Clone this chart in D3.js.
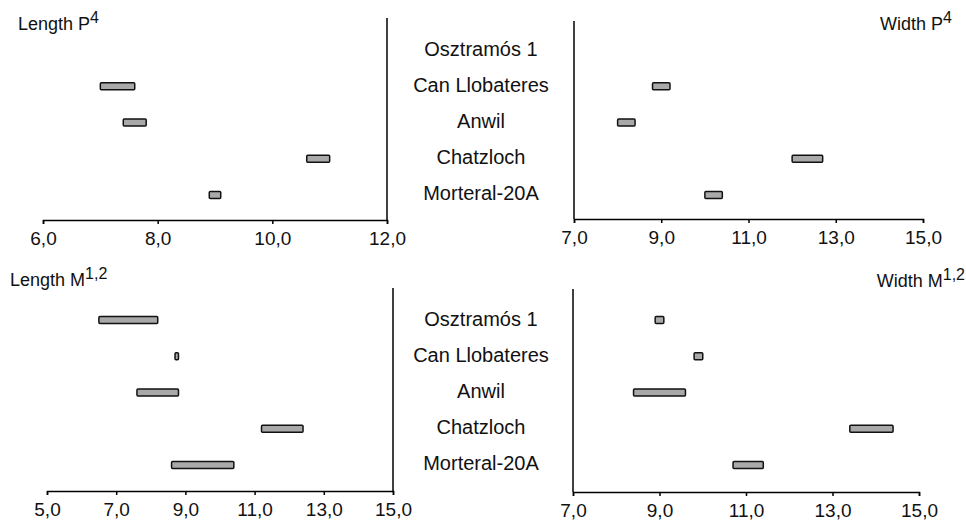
<!DOCTYPE html>
<html>
<head>
<meta charset="utf-8">
<script src="https://cdn.jsdelivr.net/npm/d3@7"></script>
<style>
  body { margin: 0; background: #fff; }
  svg { display: block; font-family: "Liberation Sans", Arial, sans-serif; }
  .axis path, .axis line { stroke: #000; stroke-width: 1.5; }
  .axis text { font-size: 19px; fill: #111; }
</style>
</head>
<body>
<svg id="chart" width="966" height="522"></svg>
<script>
// sites, top to bottom
const sites = ["Osztramós 1", "Can Llobateres", "Anwil", "Chatzloch", "Morteral-20A"];

// ranges (min, max) per site, null = no data
const lengthP4Min = [null, 7.0, 7.4, 10.6, 8.9];
const lengthP4Max = [null, 7.6, 7.8, 11.0, 9.1];
const widthP4Min = [null, 8.8, 8.0, 12.0, 10.0];
const widthP4Max = [null, 9.2, 8.4, 12.7, 10.4];
const lengthM12Min = [6.5, 8.7, 7.6, 11.2, 8.6];
const lengthM12Max = [8.2, 8.8, 8.8, 12.4, 10.4];
const widthM12Min = [8.9, 9.8, 8.4, 13.4, 10.7];
const widthM12Max = [9.1, 10.0, 9.6, 14.4, 11.4];

// tick labels
const lengthP4Ticks = [6, 8, 10, 12];
const widthP4Ticks = [7, 9, 11, 13, 15];
const lengthM12Ticks = [5, 7, 9, 11, 13, 15];
const widthM12Ticks = [7, 9, 11, 13, 15];

const svg = d3.select("#chart");
const fmt = d => d3.format(".1f")(d).replace(".", ",");

const panels = [
  { title: "Length P", sup: "4", mins: lengthP4Min, maxs: lengthP4Max, ticks: lengthP4Ticks,
    x0: 43, x1: 387, base: 220, top: 18, rows: [50, 195], side: "right",
    tx: 18, ty: 30, anchor: "start" },
  { title: "Width P", sup: "4", mins: widthP4Min, maxs: widthP4Max, ticks: widthP4Ticks,
    x0: 574, x1: 923, base: 219, top: 21, rows: [50, 195], side: "left",
    tx: 952, ty: 30, anchor: "end" },
  { title: "Length M", sup: "1,2", mins: lengthM12Min, maxs: lengthM12Max, ticks: lengthM12Ticks,
    x0: 47, x1: 393, base: 491, top: 288, rows: [320, 465], side: "right",
    tx: 10, ty: 286, anchor: "start" },
  { title: "Width M", sup: "1,2", mins: widthM12Min, maxs: widthM12Max, ticks: widthM12Ticks,
    x0: 573, x1: 919, base: 492, top: 289, rows: [320, 465], side: "left",
    tx: 965, ty: 287, anchor: "end" }
];

panels.forEach(p => {
  const x = d3.scaleLinear()
    .domain(d3.extent(p.ticks))
    .range([p.x0, p.x1]);
  const y = d3.scalePoint().domain(sites).range(p.rows);

  const g = svg.append("g");

  // x axis
  g.append("g")
    .attr("class", "axis")
    .attr("transform", "translate(0," + p.base + ")")
    .call(d3.axisBottom(x).tickValues(p.ticks).tickFormat(fmt).tickSize(4).tickPadding(7))
    .call(a => a.selectAll("text").attr("dy", "0.72em"));

  // vertical axis line
  const vx = p.side === "right" ? p.x1 : p.x0;
  g.append("line")
    .attr("x1", vx).attr("x2", vx)
    .attr("y1", p.top).attr("y2", p.base)
    .attr("stroke", "#000").attr("stroke-width", 1.5);

  // bars
  const rows = sites.map((s, i) => ({ site: s, lo: p.mins[i], hi: p.maxs[i] }))
    .filter(d => d.lo != null);

  g.selectAll(".bar")
    .data(rows)
    .enter().append("rect")
    .attr("class", "bar")
    .attr("x", d => x(d.lo))
    .attr("y", d => y(d.site) - 3.5)
    .attr("width", d => Math.max(x(d.hi) - x(d.lo), 2))
    .attr("height", 7)
    .attr("rx", 1)
    .attr("fill", "#a9a9a9")
    .attr("stroke", "#111")
    .attr("stroke-width", 1.5);

  // title
  const t = g.append("text")
    .attr("x", p.tx).attr("y", p.ty)
    .attr("text-anchor", p.anchor)
    .attr("font-size", 18)
    .attr("fill", "#111")
    .text(p.title);
  t.append("tspan")
    .attr("font-size", 16)
    .attr("dy", -7)
    .text(p.sup);
});

// site labels in the middle
[[49, 193], [319, 463]].forEach(r => {
  const y = d3.scalePoint().domain(sites).range(r);
  svg.append("g").selectAll("text")
    .data(sites)
    .enter().append("text")
    .attr("x", 481)
    .attr("y", d => y(d))
    .attr("dy", "0.36em")
    .attr("text-anchor", "middle")
    .attr("font-size", 20)
    .attr("fill", "#111")
    .text(d => d);
});
</script>
</body>
</html>
